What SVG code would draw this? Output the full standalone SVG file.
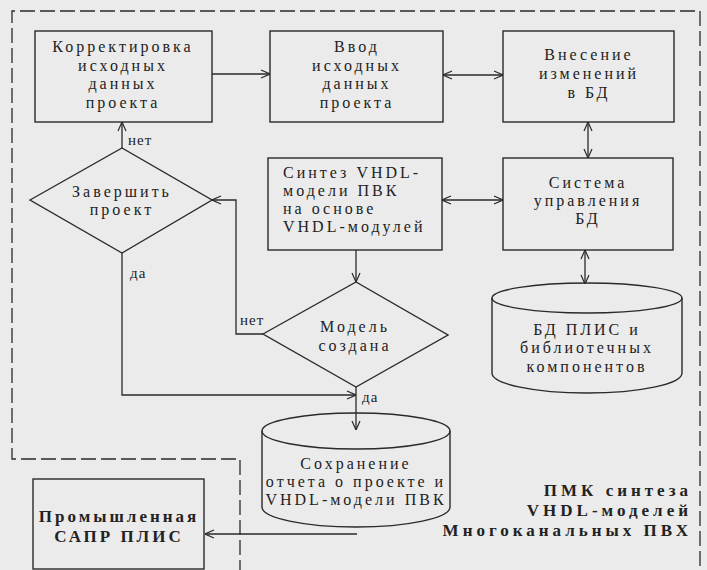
<svg xmlns="http://www.w3.org/2000/svg" width="707" height="570" viewBox="0 0 707 570">
<defs>
<style>
.bg{fill:#ebebeb}
.box{fill:none;stroke:#2a2a2a;stroke-width:1.4}
.ln{fill:none;stroke:#2a2a2a;stroke-width:1.3}
.dash{fill:none;stroke:#2a2a2a;stroke-width:1.3;stroke-dasharray:15 5}
text{font-family:"Liberation Serif","Times New Roman",serif;font-size:16px;fill:#222;letter-spacing:3px}
.c{text-anchor:middle}
.s{font-size:15px;letter-spacing:1px}
.b{font-weight:bold;font-size:17px;letter-spacing:3px}
.t{letter-spacing:4px}
.r{text-anchor:end}
</style>
<marker id="ah" viewBox="0 0 10 10" refX="10" refY="5" markerWidth="10" markerHeight="10" markerUnits="userSpaceOnUse" orient="auto-start-reverse">
<path d="M1,1 L10,5 L1,9" fill="none" stroke="#2a2a2a" stroke-width="1.2"/>
</marker>
</defs>
<rect class="bg" x="0" y="0" width="707" height="570"/>
<path class="dash" d="M240,575 L240,459 L12,459 L12,11 L700,11 L700,575"/>

<g id="connectors">
<line class="ln" x1="212" y1="74" x2="270" y2="74" marker-end="url(#ah)"/>
<line class="ln" x1="443" y1="75" x2="503" y2="75" marker-start="url(#ah)" marker-end="url(#ah)"/>
<line class="ln" x1="588" y1="122" x2="588" y2="158" marker-start="url(#ah)" marker-end="url(#ah)"/>
<line class="ln" x1="442" y1="200" x2="503" y2="200" marker-start="url(#ah)" marker-end="url(#ah)"/>
<line class="ln" x1="585" y1="250" x2="585" y2="284" marker-start="url(#ah)" marker-end="url(#ah)"/>
<line class="ln" x1="356" y1="250" x2="356" y2="282" marker-end="url(#ah)"/>
<polyline class="ln" points="263,334 236,334 236,200 212,200" marker-end="url(#ah)"/>
<line class="ln" x1="122" y1="148" x2="122" y2="122" marker-end="url(#ah)"/>
<polyline class="ln" points="122,253 122,395 356,395" marker-end="url(#ah)"/>
<line class="ln" x1="356" y1="387" x2="356" y2="430" marker-end="url(#ah)"/>
<line class="ln" x1="357" y1="534" x2="205" y2="534" marker-end="url(#ah)"/>
<text x="128" y="145" class="s">нет</text>
<text x="130" y="278" class="s">да</text>
<text x="240" y="325" class="s">нет</text>
<text x="362" y="402" class="s">да</text>
</g>

<g id="correct">
<rect class="box" x="35" y="31" width="177" height="91"/>
<text class="c" x="123" y="52">Корректировка</text>
<text class="c" x="123" y="71">исходных</text>
<text class="c" x="123" y="89">данных</text>
<text class="c" x="123" y="108">проекта</text>
</g>

<g id="input">
<rect class="box" x="270" y="31" width="173" height="91"/>
<text class="c" x="357" y="52">Ввод</text>
<text class="c" x="357" y="71">исходных</text>
<text class="c" x="357" y="89">данных</text>
<text class="c" x="357" y="108">проекта</text>
</g>

<g id="changes">
<rect class="box" x="503" y="31" width="171" height="91"/>
<text class="c" x="589" y="60">Внесение</text>
<text class="c" x="589" y="79">изменений</text>
<text class="c" x="589" y="98">в БД</text>
</g>

<g id="synth">
<rect class="box" x="268" y="158" width="174" height="92"/>
<text x="283" y="178">Синтез VHDL-</text>
<text x="283" y="196">модели ПВК</text>
<text x="283" y="214">на основе</text>
<text x="283" y="232">VHDL-модулей</text>
</g>

<g id="dbms">
<rect class="box" x="503" y="158" width="170" height="92"/>
<text class="c" x="588" y="188">Система</text>
<text class="c" x="588" y="206">управления</text>
<text class="c" x="588" y="224">БД</text>
</g>

<g id="finish">
<polygon class="box" points="30,200 122,148 212,200 122,253"/>
<text class="c" x="122" y="197">Завершить</text>
<text class="c" x="122" y="215">проект</text>
</g>

<g id="model">
<polygon class="box" points="263,334 356,282 448,335 356,387"/>
<text class="c" x="355" y="332">Модель</text>
<text class="c" x="355" y="351">создана</text>
</g>

<g id="fpgadb">
<ellipse class="box" cx="587" cy="298" rx="95" ry="15"/>
<path class="box" d="M492,298 L492,373 A95,20 0 0 0 682,373 L682,298"/>
<text class="c" x="587" y="335">БД ПЛИС и</text>
<text class="c" x="587" y="353">библиотечных</text>
<text class="c" x="587" y="372">компонентов</text>
</g>

<g id="save">
<ellipse class="box" cx="356" cy="431" rx="94" ry="18"/>
<path class="box" d="M262,431 L262,507 A94,20 0 0 0 450,507 L450,431"/>
<text class="c" x="356" y="469">Сохранение</text>
<text class="c" x="356" y="487">отчета о проекте и</text>
<text class="c" x="356" y="505">VHDL-модели ПВК</text>
</g>

<g id="cad">
<rect class="box" x="33" y="479" width="171" height="90"/>
<text class="c b" x="119" y="522">Промышленная</text>
<text class="c b" x="119" y="542">САПР ПЛИС</text>
</g>

<g id="title">
<text class="r b t" x="692" y="496">ПМК синтеза</text>
<text class="r b t" x="692" y="516">VHDL-моделей</text>
<text class="r b t" x="692" y="536">Многоканальных ПВХ</text>
</g>
</svg>
